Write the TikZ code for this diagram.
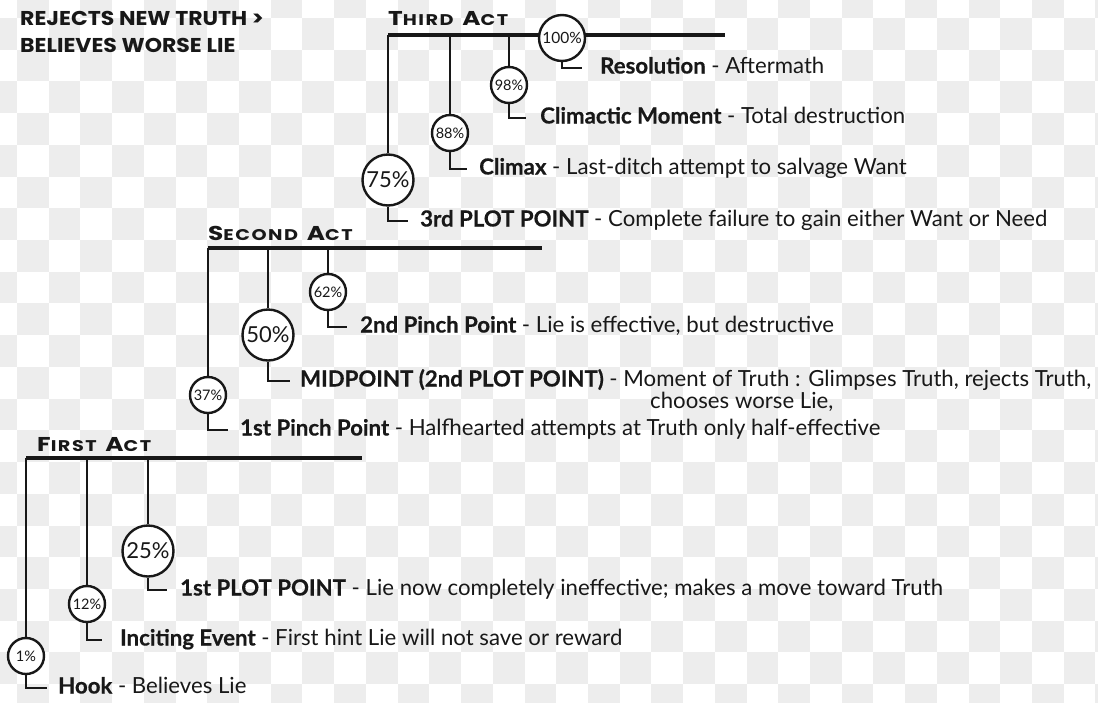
\documentclass[tikz,border=0pt]{standalone}
\usepackage{fontspec}
\setmainfont{Lato}[BoldFeatures={FakeBold=0.5}]
\newfontfamily\headfont{Poppins}
\newfontfamily\actfont{Poppins}[LetterSpace=8]
\definecolor{ink}{RGB}{24,24,24}
\definecolor{checker}{RGB}{237,237,237}
% small-caps look for the act headings: big initial, smaller rest, widened
\newcommand\sccap[2]{{\fontsize{20}{20}\selectfont #1}{\fontsize{15.5}{15.5}\selectfont #2}}
\newcommand\acttitle[2]{\scalebox{1.24}[1]{\actfont\bfseries #1\hspace{7pt}#2}}

\begin{document}
\begin{tikzpicture}[x=1pt,y=-1pt,
  actline/.style={line width=3.4pt, draw=ink},
  stem/.style={line width=2.2pt, draw=ink},
  pct/.style={circle, draw=ink, line width=2.4pt, fill=white, inner sep=0pt, text=ink},
  smallpct/.style={pct, minimum size=36pt, font=\fontsize{14.5}{14.5}\selectfont},
  bigpct/.style={pct, minimum size=51pt, font=\fontsize{22}{22}\selectfont},
  beat/.style={anchor=west, inner sep=0pt, text=ink, font=\fontsize{22.2}{22.2}\selectfont, text height=16pt, text depth=5pt},
  acthead/.style={anchor=base west, inner sep=0pt, text=ink},
  tagline/.style={anchor=base west, inner sep=0pt, text=ink, font=\headfont\bfseries\fontsize{20}{20}\selectfont},
]
\useasboundingbox (0,0) rectangle (1098,702);
\clip (0,0) rectangle (1098,702);

% checkered backdrop
\fill[white] (0,0) rectangle (1098,702);
\foreach \i in {-1,...,34} {
  \foreach \j in {-1,...,21} {
    \pgfmathtruncatemacro\cellparity{mod(\i+\j+2,2)}
    \ifnum\cellparity=1
      \fill[checker] ({17+\i*31.72},{18+\j*31.72}) rectangle ++(31.72,31.72);
    \fi
  }
}

% corner tagline
\node[tagline] (tag1) at (20,25) {\scalebox{1.1}[1]{REJECTS NEW TRUTH >}};
\node[tagline] (tag2) at (20,52) {\scalebox{1.1}[1]{BELIEVES WORSE LIE}};

% ---------------- Third act ----------------
\coordinate (A3s) at (388,35);
\coordinate (A3e) at (725,35);
\node[acthead] (h3) at (388,25) {\acttitle{\sccap{T}{HIRD}}{\sccap{A}{CT}}};
\draw[actline] (A3s) -- (A3e);

\node[bigpct] (p75) at (388,180) {75\%};
\node[smallpct] (p88) at (450,133) {88\%};
\node[smallpct] (p98) at (509,85) {98\%};
\node[pct, minimum size=46pt, font=\fontsize{15.5}{15.5}\selectfont] (p100) at (562,38) {100\%};

\node[beat] (t75) at (420,221) {\textbf{3rd PLOT POINT} - Complete failure to gain either Want or Need};
\node[beat] (t88) at (479,169) {\textbf{Climax} - Last-ditch attempt to salvage Want};
\node[beat] (t98) at (540,118) {\textbf{Climactic Moment} - Total destruction};
\node[beat] (t100) at (600,68) {\textbf{Resolution} - Aftermath};

\draw[stem] (A3s) -- (p75.north);
\draw[stem] (p88.north |- A3s) -- (p88.north);
\draw[stem] (p98.north |- A3s) -- (p98.north);
\draw[stem, shorten >=12pt] (p75.south) |- (t75.west);
\draw[stem, shorten >=12pt] (p88.south) |- (t88.west);
\draw[stem, shorten >=14pt] (p98.south) |- (t98.west);
\draw[stem, shorten >=18pt] (p100.south) |- (t100.west);

% ---------------- Second act ----------------
\coordinate (A2s) at (208,248);
\coordinate (A2e) at (542,248);
\node[acthead] (h2) at (208,240) {\acttitle{\sccap{S}{ECOND}}{\sccap{A}{CT}}};
\draw[actline] (A2s) -- (A2e);

\node[smallpct] (p37) at (208,395) {37\%};
\node[bigpct] (p50) at (268,335) {50\%};
\node[smallpct] (p62) at (328,292) {62\%};

\node[beat] (t37) at (240,430) {\textbf{1st Pinch Point} - Halfhearted attempts at Truth only half-effective};
\node[beat] (t50) at (300,381) {\textbf{MIDPOINT (2nd PLOT POINT)} - Moment of Truth : Glimpses Truth, rejects Truth,};
\node[beat] (t50b) at (650,403) {chooses worse Lie,};
\node[beat] (t62) at (360,327) {\textbf{2nd Pinch Point} - Lie is effective, but destructive};

\draw[stem] (A2s) -- (p37.north);
\draw[stem] (p50.north |- A2s) -- (p50.north);
\draw[stem] (p62.north |- A2s) -- (p62.north);
\draw[stem, shorten >=12pt] (p37.south) |- (t37.west);
\draw[stem, shorten >=10pt] (p50.south) |- (t50.west);
\draw[stem, shorten >=13pt] (p62.south) |- (t62.west);

% ---------------- First act ----------------
\coordinate (A1s) at (26,458);
\coordinate (A1e) at (362,458);
\node[acthead] (h1) at (37,451) {\acttitle{\sccap{F}{IRST}}{\sccap{A}{CT}}};
\draw[actline] (A1s) -- (A1e);

\node[smallpct] (p1) at (26,656) {1\%};
\node[smallpct] (p12) at (87,604) {12\%};
\node[bigpct] (p25) at (148,551) {25\%};

\node[beat] (t1) at (58,688) {\textbf{Hook} - Believes Lie};
\node[beat] (t12) at (120,640) {\textbf{Inciting Event} - First hint Lie will not save or reward};
\node[beat] (t25) at (180,590) {\textbf{1st PLOT POINT} - Lie now completely ineffective; makes a move toward Truth};

\draw[stem] (A1s) -- (p1.north);
\draw[stem] (p12.north |- A1s) -- (p12.north);
\draw[stem] (p25.north |- A1s) -- (p25.north);
\draw[stem, shorten >=11pt] (p1.south) |- (t1.west);
\draw[stem, shorten >=18pt] (p12.south) |- (t12.west);
\draw[stem, shorten >=13pt] (p25.south) |- (t25.west);
\end{tikzpicture}
\end{document}
